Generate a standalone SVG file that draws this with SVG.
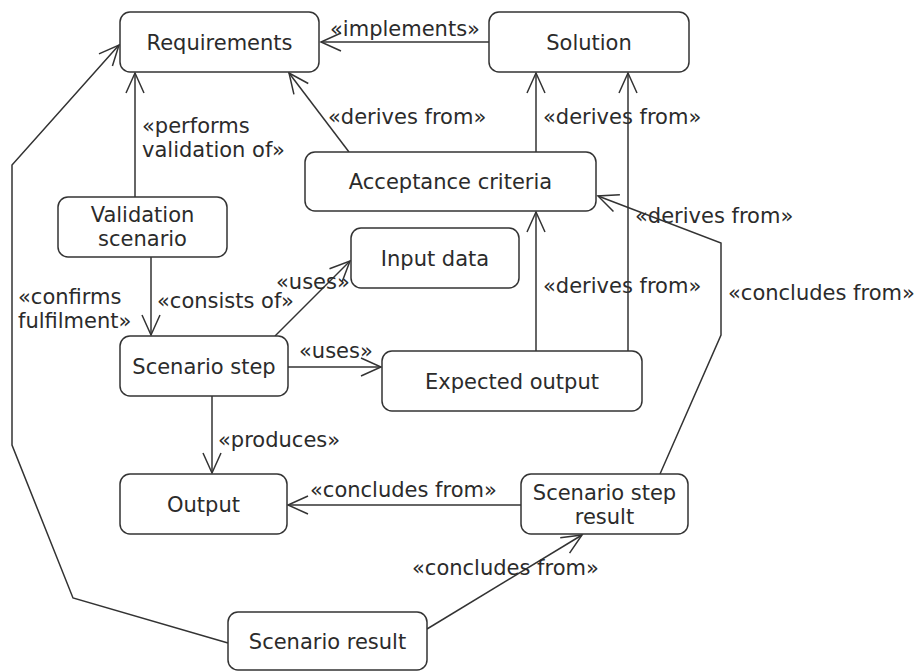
<svg xmlns="http://www.w3.org/2000/svg" width="920" height="671" viewBox="0 0 920 671">
  <style>
    .node rect { fill: #ffffff; stroke: #333333; stroke-width: 1.5; }
    .node text { font-family: "DejaVu Sans", "Liberation Sans", sans-serif; font-size: 21px; fill: #2b2b2b; text-anchor: middle; }
    .edges path { fill: none; stroke: #333333; stroke-width: 1.5; marker-end: url(#open); }
    .edges text { font-family: "DejaVu Sans", "Liberation Sans", sans-serif; font-size: 21px; fill: #2b2b2b; }
  </style>
  <defs>
    <marker id="open" markerUnits="userSpaceOnUse" markerWidth="30" markerHeight="30" viewBox="-25 -15 30 30" refX="0" refY="0" orient="auto">
      <path d="M-20,-9 L0,0 L-20,9" fill="none" stroke="#333333" stroke-width="1.5"/>
    </marker>
  </defs>

  <rect width="920" height="671" fill="#ffffff"/>

  <!-- connectors -->
  <g id="edges" class="edges">
    <path d="M489,42 L321,42"/>
    <text x="330" y="36">«implements»</text>

    <path d="M349,152 L289,73"/>
    <text x="328" y="124">«derives from»</text>

    <path d="M536,152 L536,73"/>
    <text x="543" y="124">«derives from»</text>

    <path d="M135,197 L135,73"/>
    <text x="142" y="133">«performs</text>
    <text x="142" y="157">validation of»</text>

    <path d="M151,257 L151,335"/>
    <text x="157" y="308">«consists of»</text>

    <path d="M228,643 L73,598 L12,445 L12,165 L119,45"/>
    <text x="18" y="304">«confirms</text>
    <text x="18" y="328">fulfilment»</text>

    <path d="M275,336 L350,261"/>
    <text x="276" y="289">«uses»</text>

    <path d="M288,367 L381,367"/>
    <text x="299" y="358">«uses»</text>

    <path d="M536,351 L536,212"/>
    <text x="543" y="293">«derives from»</text>

    <path d="M628,351 L628,73"/>
    <text x="635" y="223">«derives from»</text>

    <path d="M660,474 L721,335 L721,243 L598,196"/>
    <text x="728" y="300">«concludes from»</text>

    <path d="M212,396 L212,473"/>
    <text x="218" y="447">«produces»</text>

    <path d="M521,505 L288,505"/>
    <text x="310" y="497">«concludes from»</text>

    <path d="M427,629 L582,535"/>
    <text x="412" y="575">«concludes from»</text>
  </g>

  <!-- nodes -->
  <g id="requirements" class="node">
    <rect x="120" y="12" width="199" height="60" rx="10"/>
    <text x="219.5" y="50">Requirements</text>
  </g>
  <g id="solution" class="node">
    <rect x="489" y="12" width="200" height="60" rx="10"/>
    <text x="589" y="50">Solution</text>
  </g>
  <g id="acceptance-criteria" class="node">
    <rect x="305" y="152" width="291" height="59" rx="10"/>
    <text x="450.5" y="189">Acceptance criteria</text>
  </g>
  <g id="validation-scenario" class="node">
    <rect x="58" y="197" width="169" height="60" rx="10"/>
    <text x="142.5" y="222">Validation</text>
    <text x="142.5" y="246">scenario</text>
  </g>
  <g id="input-data" class="node">
    <rect x="351" y="228" width="168" height="60" rx="10"/>
    <text x="435" y="266">Input data</text>
  </g>
  <g id="scenario-step" class="node">
    <rect x="120" y="336" width="168" height="60" rx="10"/>
    <text x="204" y="374">Scenario step</text>
  </g>
  <g id="expected-output" class="node">
    <rect x="382" y="351" width="260" height="60" rx="10"/>
    <text x="512" y="389">Expected output</text>
  </g>
  <g id="output" class="node">
    <rect x="120" y="474" width="167" height="60" rx="10"/>
    <text x="203.5" y="512">Output</text>
  </g>
  <g id="scenario-step-result" class="node">
    <rect x="521" y="474" width="167" height="60" rx="10"/>
    <text x="604.5" y="500">Scenario step</text>
    <text x="604.5" y="524">result</text>
  </g>
  <g id="scenario-result" class="node">
    <rect x="228" y="612" width="199" height="58" rx="10"/>
    <text x="327.5" y="649">Scenario result</text>
  </g>
</svg>
